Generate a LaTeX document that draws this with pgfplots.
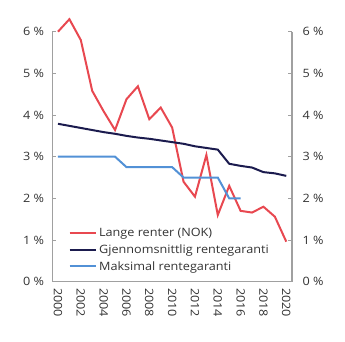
\documentclass[border=0pt]{standalone}
\usepackage{pgfplots}
\pgfplotsset{compat=1.18}
\usepackage{fontspec}
\setmainfont{Open Sans}[FakeStretch=1.1]
\definecolor{cred}{RGB}{232,72,80}
\definecolor{cnavy}{RGB}{27,27,78}
\definecolor{cblue}{RGB}{82,145,214}
\definecolor{caxis}{RGB}{160,160,160}
\pgfplotsset{
  base/.style={
    scale only axis, width=239.5pt, height=250pt,
    xmin=1999.52, xmax=2020.5, ymin=0, ymax=6,
    ytick={0,1,2,3,4,5,6},
    yticklabels={0 \%,1 \%,2 \%,3 \%,4 \%,5 \%,6 \%},
    tick label style={font=\fontsize{11.5}{14}\selectfont, text=black!80},
    /pgf/number format/assume math mode=true,
    major tick length=4pt,
    tick style={caxis, line width=0.8pt},
    axis line style={caxis, line width=1pt},
    tick align=inside,
  }
}
\begin{document}
\begin{tikzpicture}
\begin{axis}[base,
  clip=false,
  axis x line*=bottom, axis y line*=left,
  xtick={2000,2002,...,2020},
  xticklabel style={rotate=-90, anchor=west, /pgf/number format/1000 sep={}},
  xticklabel shift=3pt,
  x tick style={draw=none},
  yticklabel style={xshift=-5pt},
  legend style={draw=none, fill=none, at={(0.058,0.024)}, anchor=south west,
    font=\fontsize{11.5}{14}\selectfont, text=black!80, row sep=2.5pt,
    inner sep=2pt},
  legend cell align=left,
  legend image code/.code={\draw[#1, line width=2pt] (0pt,0pt) -- (26.5pt,0pt);},
]
\coordinate (bl) at (rel axis cs:0,0);
\addplot[cred, line width=2pt] coordinates {
(2000,6.00) (2001,6.30) (2002,5.80) (2003,4.58) (2004,4.09) (2005,3.64)
(2006,4.38) (2007,4.69) (2008,3.90) (2009,4.18) (2010,3.70) (2011,2.40)
(2012,2.04) (2013,3.04) (2014,1.60) (2015,2.30) (2016,1.70) (2017,1.66)
(2018,1.80) (2019,1.56) (2020,0.96)};
\addlegendentry{Lange renter (NOK)}
\addplot[cnavy, line width=2pt] coordinates {
(2000,3.79) (2001,3.74) (2002,3.69) (2003,3.64) (2004,3.59) (2005,3.55)
(2006,3.50) (2007,3.46) (2008,3.43) (2009,3.39) (2010,3.35) (2011,3.31)
(2012,3.25) (2013,3.21) (2014,3.17) (2015,2.83) (2016,2.78) (2017,2.74)
(2018,2.63) (2019,2.60) (2020,2.54)};
\addlegendentry{Gjennomsnittlig rentegaranti}
\addplot[cblue, line width=2pt] coordinates {
(2000,3.0) (2001,3.0) (2002,3.0) (2003,3.0) (2004,3.0) (2005,3.0)
(2006,2.75) (2007,2.75) (2008,2.75) (2009,2.75) (2010,2.75)
(2011,2.5) (2012,2.5) (2013,2.5) (2014,2.5) (2015,2.0) (2016,2.0)};
\addlegendentry{Maksimal rentegaranti}
\end{axis}
\begin{axis}[base,
  axis y line*=right, hide x axis,
  yticklabel style={xshift=7pt},
  axis line style={caxis, line width=1.5pt},
]
\end{axis}
\path[use as bounding box] (bl) ++(-52.5pt,-59.3pt) rectangle ++(345pt,341pt);
\end{tikzpicture}
\end{document}
